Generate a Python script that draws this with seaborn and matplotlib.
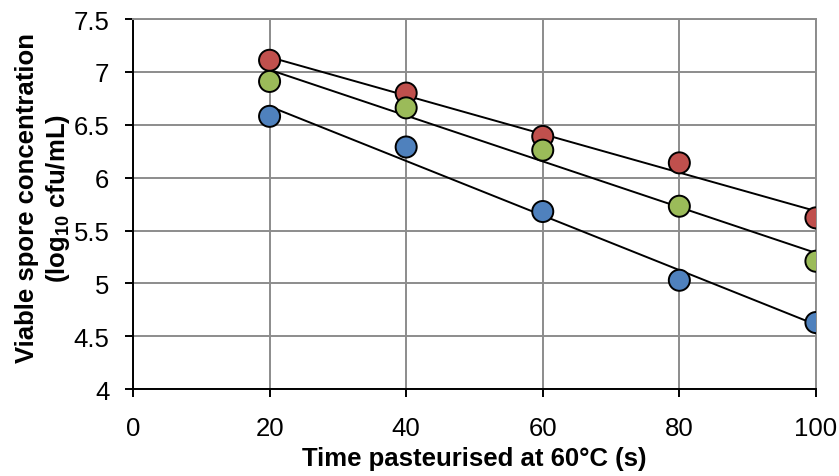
import numpy as np
import pandas as pd
import seaborn as sns
import matplotlib
matplotlib.use("Agg")
import matplotlib.pyplot as plt

# Data
time_s = [20, 40, 60, 80, 100]
red_vals = [7.11, 6.80, 6.39, 6.14, 5.62]
green_vals = [6.91, 6.66, 6.26, 5.73, 5.21]
blue_vals = [6.58, 6.29, 5.68, 5.03, 4.63]

series_names = ["red", "green", "blue"]
series_colors = {"red": "#C0504D", "green": "#9BBB59", "blue": "#4F81BD"}

df = pd.DataFrame({
    "time": time_s * 3,
    "conc": red_vals + green_vals + blue_vals,
    "series": ["red"] * 5 + ["green"] * 5 + ["blue"] * 5,
})

sns.set_style("white")
plt.rcParams["font.family"] = ["Liberation Sans", "DejaVu Sans"]
plt.rcParams["mathtext.fontset"] = "custom"
plt.rcParams["mathtext.bf"] = "Liberation Sans:bold"
plt.rcParams["mathtext.rm"] = "Liberation Sans:bold"
plt.rcParams["text.color"] = "black"

fig = plt.figure(figsize=(8.39, 4.77), dpi=100)
ax = fig.add_axes([0.1585, 0.182, 0.814, 0.776])

# Trendlines (linear fit) first, then markers on top
for name in series_names:
    sub = df[df["series"] == name]
    sns.regplot(data=sub, x="time", y="conc", ax=ax, scatter=False, ci=None,
                truncate=True, line_kws={"color": "black", "lw": 1.4, "zorder": 3})

sns.scatterplot(data=df, x="time", y="conc", hue="series", palette=series_colors,
                hue_order=series_names, s=230, edgecolor="black", linewidth=1.4,
                legend=False, ax=ax, zorder=4)

ax.set_xlim(0, 100)
ax.set_ylim(4, 7.5)
ax.set_xticks(np.arange(0, 101, 20))
ax.set_yticks(np.arange(4, 7.51, 0.5))
ax.set_yticklabels(["4", "4.5", "5", "5.5", "6", "6.5", "7", "7.5"])

ax.grid(True, color="#8c8c8c", lw=1.4)
ax.set_axisbelow(True)
for side in ["top", "right"]:
    ax.spines[side].set_color("#8c8c8c")
    ax.spines[side].set_linewidth(1.4)
for side in ["left", "bottom"]:
    ax.spines[side].set_color("black")
    ax.spines[side].set_linewidth(1.4)

ax.tick_params(axis="both", direction="out", length=6, width=1.4, color="black",
               labelsize=18.5, labelcolor="black", left=True, bottom=True)
ax.tick_params(axis="x", pad=13)
ax.tick_params(axis="y", pad=11)

ax.set_xlabel("Time pasteurised at 60°C (s)", fontsize=18.5, fontweight="bold",
              color="black", va="top")
ax.xaxis.set_label_coords(0.5, -0.153)
ax.set_ylabel("Viable spore concentration\n(log$\\mathbf{_{10}}$ cfu/mL)", fontsize=18.5,
              fontweight="bold", color="black", linespacing=1.25)
ax.yaxis.set_label_coords(-0.089, 0.518)

fig.savefig("out.png", dpi=100)
